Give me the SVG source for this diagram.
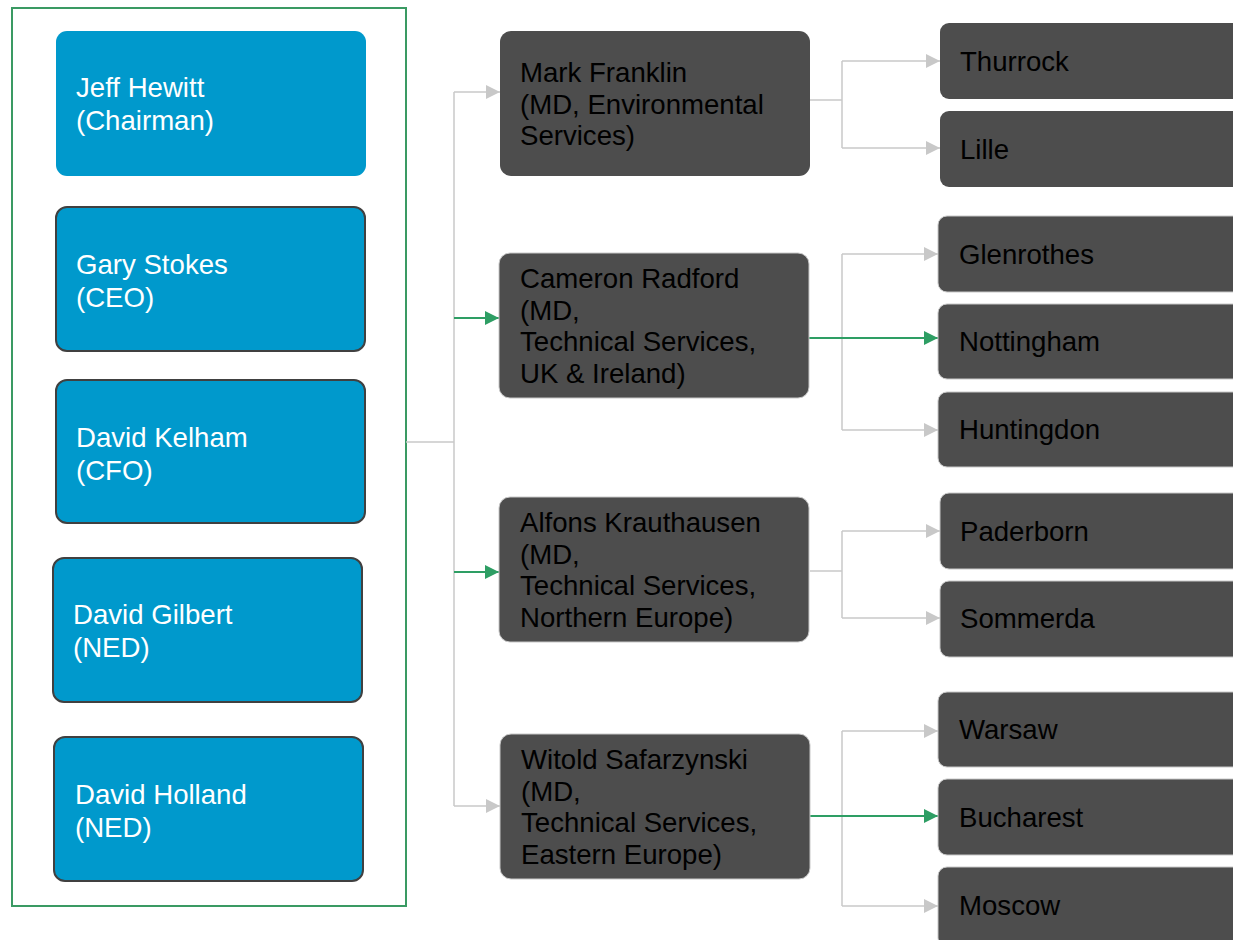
<svg xmlns="http://www.w3.org/2000/svg" width="1233" height="940" viewBox="0 0 1233 940">
<style>
.t{font-family:"Liberation Sans",Arial,sans-serif;font-size:27.6px}
.w{fill:#ffffff}
.k{fill:#000000}
.blue{fill:#0099cc}
.blueS{fill:#0099cc;stroke:#404040;stroke-width:2}
.dark{fill:#4d4d4d}
.darkS{fill:#4d4d4d;stroke:#c8c8c8;stroke-width:1}
.g{fill:none;stroke:#c8c8c8;stroke-width:1.5}
.gr{fill:none;stroke:#2e9e64;stroke-width:2}
</style>
<defs>
<marker id="ag" markerUnits="userSpaceOnUse" markerWidth="16" markerHeight="16" refX="14" refY="7" orient="auto">
<path d="M0,0 L14,7 L0,14 z" fill="#c8c8c8"/>
</marker>
<marker id="agr" markerUnits="userSpaceOnUse" markerWidth="16" markerHeight="16" refX="14" refY="7" orient="auto">
<path d="M0,0 L14,7 L0,14 z" fill="#2e9e64"/>
</marker>
</defs>
<rect width="1233" height="940" fill="#ffffff"/>

<g id="board">
<rect x="12" y="8" width="394" height="898" fill="none" stroke="#3a9a63" stroke-width="2"/>
</g>

<g id="connectors">
<path class="g" d="M406,442 H454"/>
<path class="g" d="M454,92 V806"/>
<path class="g" d="M454,92 H500" marker-end="url(#ag)"/>
<path class="gr" d="M454,318 H499" marker-end="url(#agr)"/>
<path class="gr" d="M454,572 H499" marker-end="url(#agr)"/>
<path class="g" d="M454,806 H500" marker-end="url(#ag)"/>

<path class="g" d="M810,100 H842"/>
<path class="g" d="M842,61 V148"/>
<path class="g" d="M842,61 H940" marker-end="url(#ag)"/>
<path class="g" d="M842,148 H940" marker-end="url(#ag)"/>

<path class="g" d="M842,254 V430"/>
<path class="g" d="M842,254 H938" marker-end="url(#ag)"/>
<path class="g" d="M842,430 H938" marker-end="url(#ag)"/>
<path class="gr" d="M809,338 H938" marker-end="url(#agr)"/>

<path class="g" d="M810,571 H842"/>
<path class="g" d="M842,531 V618"/>
<path class="g" d="M842,531 H940" marker-end="url(#ag)"/>
<path class="g" d="M842,618 H940" marker-end="url(#ag)"/>

<path class="g" d="M842,731 V906"/>
<path class="g" d="M842,731 H938" marker-end="url(#ag)"/>
<path class="g" d="M842,906 H938" marker-end="url(#ag)"/>
<path class="gr" d="M810,816 H938" marker-end="url(#agr)"/>
</g>

<g id="jeff-hewitt">
<rect class="blue" x="56" y="31" width="310" height="145" rx="11"/>
<text class="t w" x="76" y="97">Jeff Hewitt</text>
<text class="t w" x="76" y="130">(Chairman)</text>
</g>
<g id="gary-stokes">
<rect class="blueS" x="56" y="207" width="309" height="144" rx="11"/>
<text class="t w" x="76" y="274">Gary Stokes</text>
<text class="t w" x="76" y="307">(CEO)</text>
</g>
<g id="david-kelham">
<rect class="blueS" x="56" y="380" width="309" height="143" rx="11"/>
<text class="t w" x="76" y="447">David Kelham</text>
<text class="t w" x="76" y="480">(CFO)</text>
</g>
<g id="david-gilbert">
<rect class="blueS" x="53" y="558" width="309" height="144" rx="11"/>
<text class="t w" x="73" y="624">David Gilbert</text>
<text class="t w" x="73" y="657">(NED)</text>
</g>
<g id="david-holland">
<rect class="blueS" x="54" y="737" width="309" height="144" rx="11"/>
<text class="t w" x="75" y="804">David Holland</text>
<text class="t w" x="75" y="837">(NED)</text>
</g>

<g id="mark-franklin">
<rect class="dark" x="500" y="31" width="310" height="145" rx="11"/>
<text class="t k" x="520" y="82">Mark Franklin</text>
<text class="t k" x="520" y="114">(MD, Environmental</text>
<text class="t k" x="520" y="145">Services)</text>
</g>
<g id="cameron-radford">
<rect class="darkS" x="499" y="253" width="310" height="145" rx="11"/>
<text class="t k" x="520" y="288">Cameron Radford</text>
<text class="t k" x="520" y="320">(MD,</text>
<text class="t k" x="520" y="351">Technical Services,</text>
<text class="t k" x="520" y="383">UK &amp; Ireland)</text>
</g>
<g id="alfons-krauthausen">
<rect class="darkS" x="499" y="497" width="310" height="145" rx="11"/>
<text class="t k" x="520" y="532">Alfons Krauthausen</text>
<text class="t k" x="520" y="564">(MD,</text>
<text class="t k" x="520" y="595">Technical Services,</text>
<text class="t k" x="520" y="627">Northern Europe)</text>
</g>
<g id="witold-safarzynski">
<rect class="darkS" x="500" y="734" width="310" height="145" rx="11"/>
<text class="t k" x="521" y="769">Witold Safarzynski</text>
<text class="t k" x="521" y="801">(MD,</text>
<text class="t k" x="521" y="832">Technical Services,</text>
<text class="t k" x="521" y="864">Eastern Europe)</text>
</g>

<g id="thurrock">
<rect class="dark" x="940" y="23" width="320" height="76" rx="9"/>
<text class="t k" x="960" y="71">Thurrock</text>
</g>
<g id="lille">
<rect class="dark" x="940" y="111" width="320" height="76" rx="9"/>
<text class="t k" x="960" y="159">Lille</text>
</g>
<g id="glenrothes">
<rect class="darkS" x="938" y="216" width="320" height="76" rx="9"/>
<text class="t k" x="959" y="264">Glenrothes</text>
</g>
<g id="nottingham">
<rect class="darkS" x="938" y="304" width="320" height="75" rx="9"/>
<text class="t k" x="959" y="351">Nottingham</text>
</g>
<g id="huntingdon">
<rect class="darkS" x="938" y="392" width="320" height="75" rx="9"/>
<text class="t k" x="959" y="439">Huntingdon</text>
</g>
<g id="paderborn">
<rect class="darkS" x="940" y="493" width="320" height="76" rx="9"/>
<text class="t k" x="960" y="541">Paderborn</text>
</g>
<g id="sommerda">
<rect class="darkS" x="940" y="581" width="320" height="76" rx="9"/>
<text class="t k" x="960" y="628">Sommerda</text>
</g>
<g id="warsaw">
<rect class="darkS" x="938" y="692" width="320" height="75" rx="9"/>
<text class="t k" x="959" y="739">Warsaw</text>
</g>
<g id="bucharest">
<rect class="darkS" x="938" y="779" width="320" height="76" rx="9"/>
<text class="t k" x="959" y="827">Bucharest</text>
</g>
<g id="moscow">
<rect class="darkS" x="938" y="867" width="320" height="80" rx="9"/>
<text class="t k" x="959" y="915">Moscow</text>
</g>
</svg>
